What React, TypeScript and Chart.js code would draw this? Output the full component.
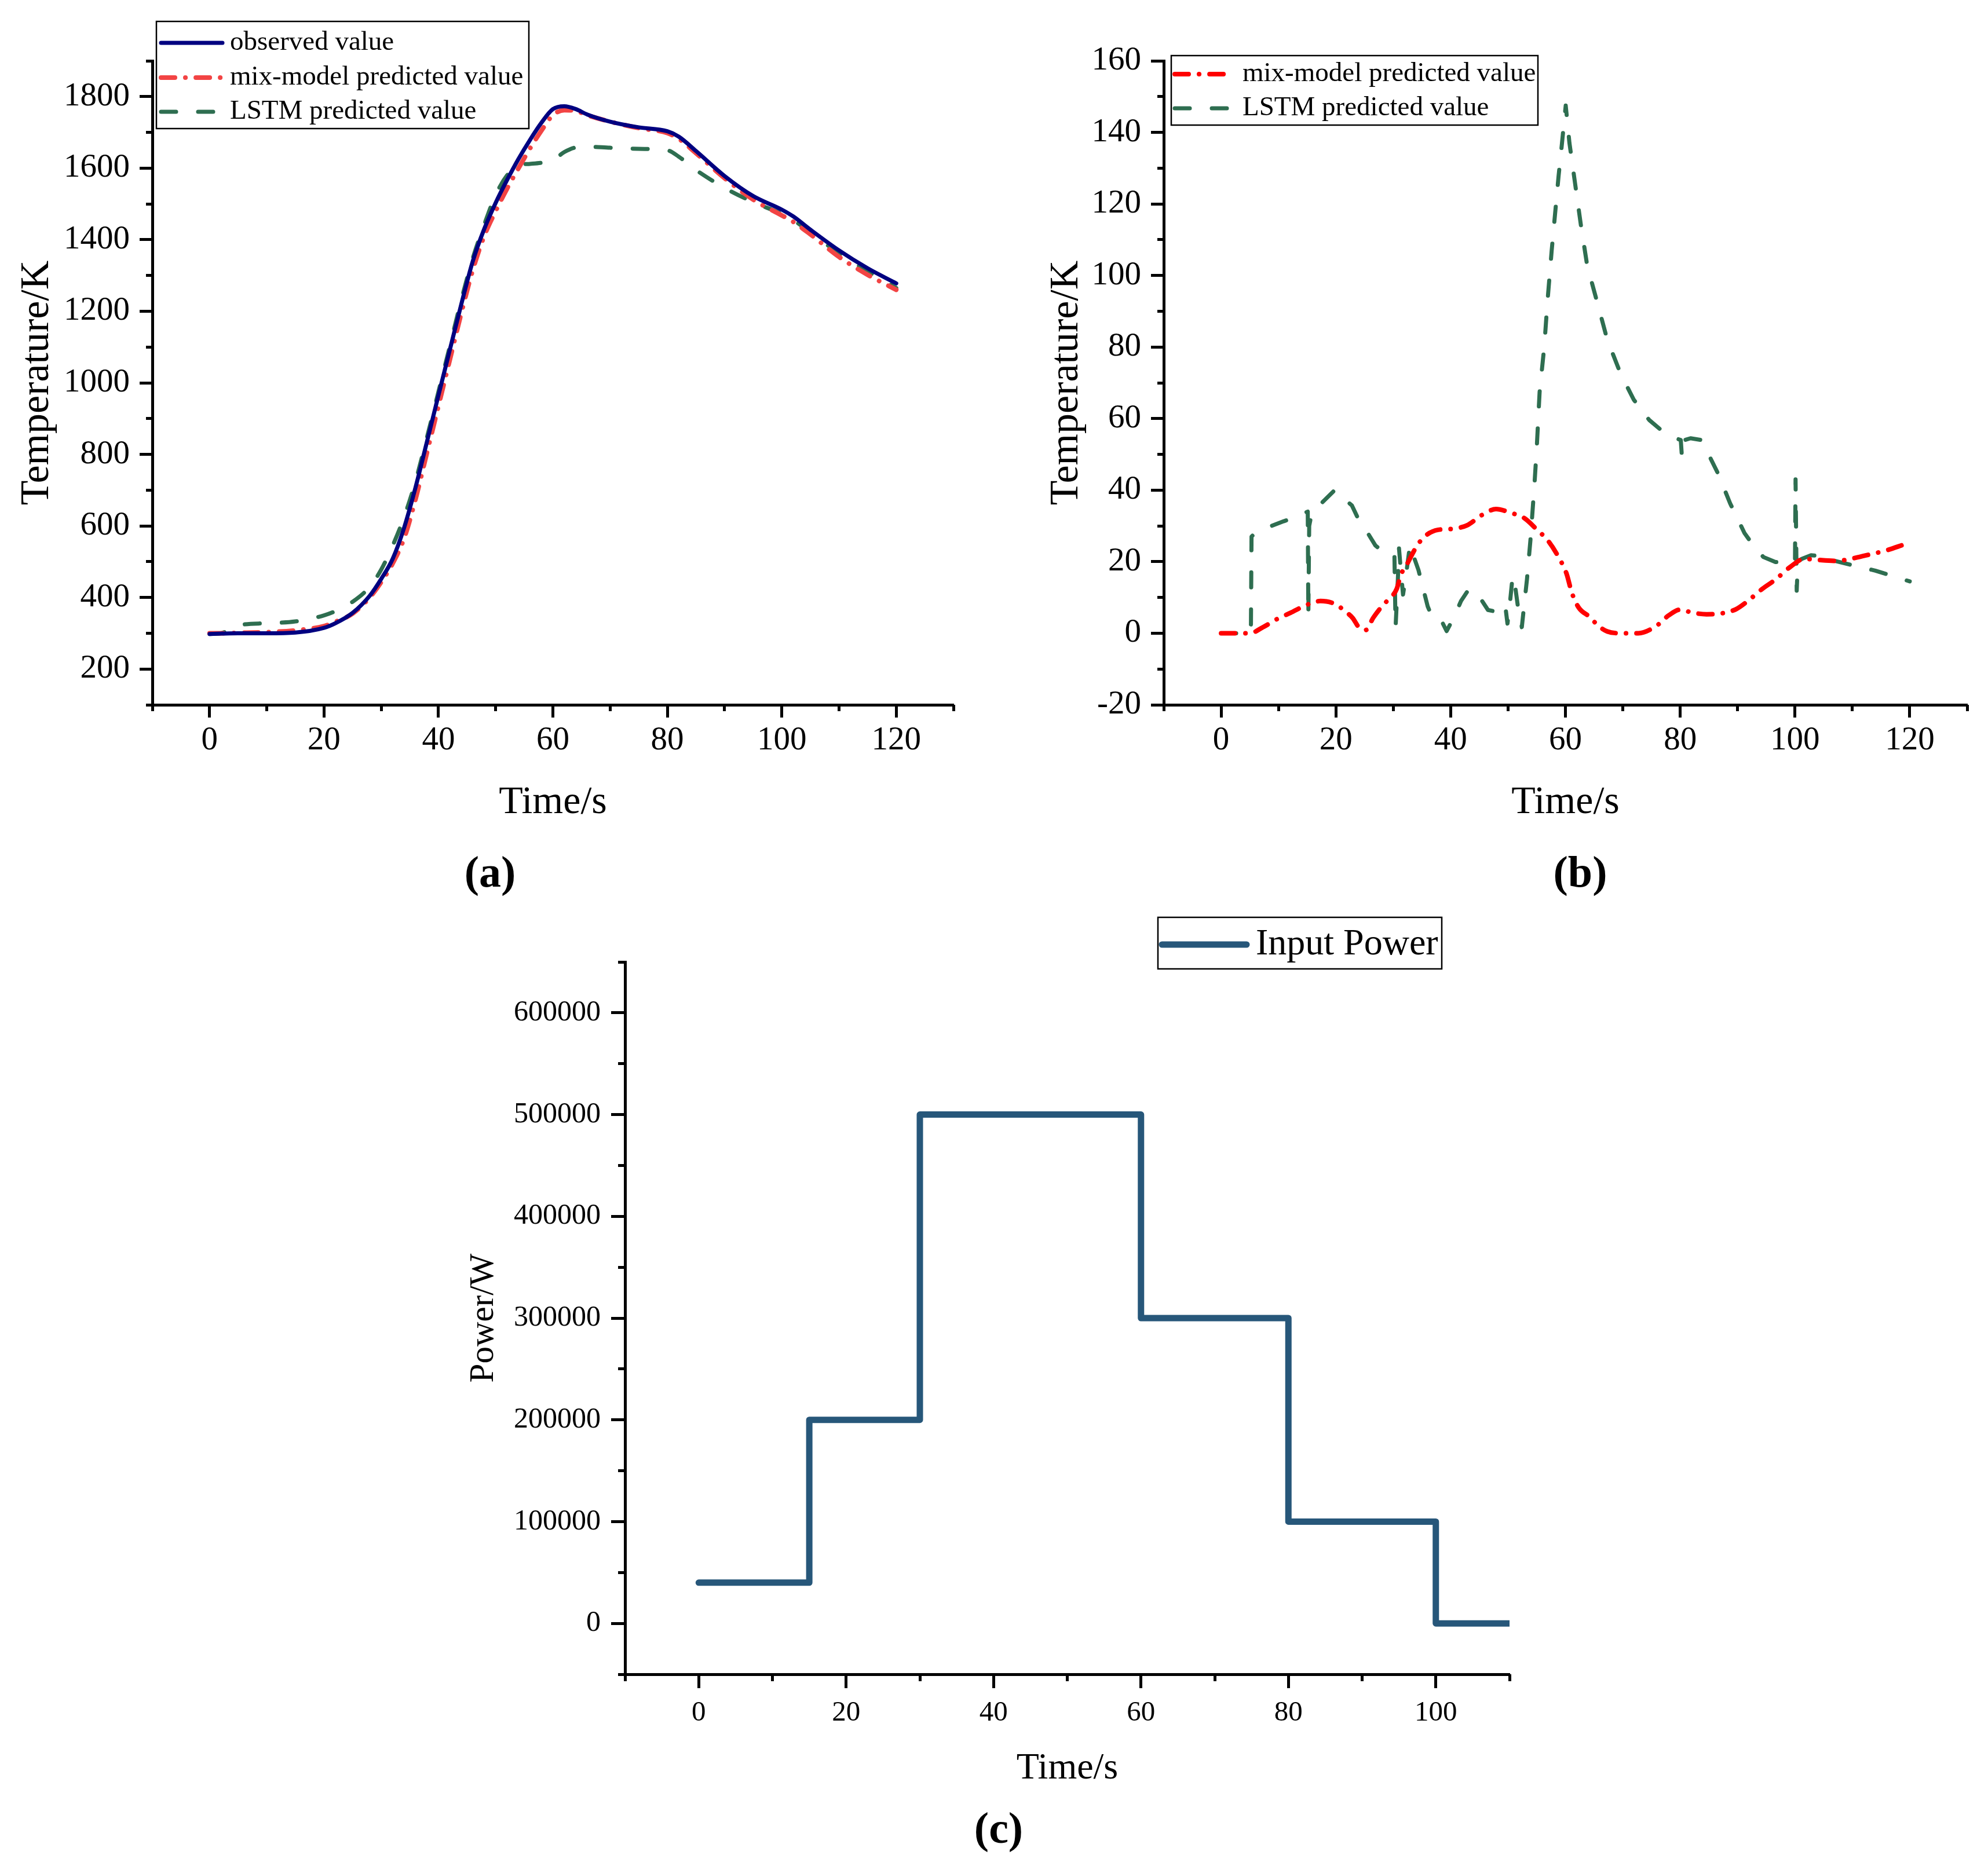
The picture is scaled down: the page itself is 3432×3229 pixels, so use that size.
import { useEffect, useRef } from "react";
import { Chart, registerables } from "chart.js";

Chart.register(...registerables);

const FONT = "'Liberation Serif', 'Times New Roman', serif";

// ---- (a) temperature: observed vs predicted ----
const timeA = [0, 2, 5, 10, 15, 20, 22, 25, 28, 30, 32, 34, 36, 38, 40, 42, 44, 46, 48, 50, 52, 54, 56, 58, 60, 62, 64, 66, 70, 75, 80, 82, 85, 90, 95, 100, 102, 105, 110, 115, 120];
const observedA = [298, 299, 300, 300, 302, 315, 328, 357, 405, 452, 508, 595, 708, 836, 965, 1093, 1220, 1340, 1430, 1503, 1567, 1626, 1679, 1727, 1765, 1773, 1765, 1750, 1730, 1714, 1703, 1688, 1648, 1578, 1522, 1484, 1465, 1428, 1370, 1320, 1278];
const mixA = [300, 300, 301, 303, 308, 320, 332, 355, 400, 443, 495, 565, 675, 805, 935, 1065, 1195, 1315, 1410, 1480, 1543, 1600, 1655, 1705, 1748, 1762, 1760, 1748, 1730, 1712, 1698, 1682, 1642, 1572, 1512, 1468, 1450, 1415, 1352, 1302, 1260];
const lstmA = [298, 300, 322, 328, 333, 350, 362, 388, 430, 478, 545, 625, 725, 848, 975, 1103, 1232, 1348, 1442, 1525, 1580, 1608, 1612, 1615, 1622, 1645, 1658, 1660, 1657, 1654, 1650, 1632, 1595, 1545, 1505, 1472, 1455, 1420, 1362, 1312, 1265];

// ---- (b) prediction error ----
const timeBMix = [0, 5, 7.3, 9.8, 12.1, 14.6, 17.3, 19.8, 21.8, 22.9, 24, 25.2, 26.5, 27.6, 29, 30.6, 31.3, 32.2, 33.5, 34.4, 35.9, 37.8, 40.4, 42.9, 45.4, 47.9, 50.4, 52.9, 55, 56.9, 58.8, 60.2, 61.1, 62.3, 64.2, 65.8, 67.3, 70, 72.7, 75.8, 78, 80, 82, 84.6, 87.4, 89.7, 92, 94.3, 96.6, 99.3, 101.6, 103.9, 107.4, 109.7, 113, 116, 119];
const mixB = [0, 0, 1.7, 4, 5.7, 7.7, 9, 8.2, 5.9, 4.3, 1.7, 0.9, 4.3, 6.7, 9.2, 12.4, 16.3, 18.7, 22.7, 25.1, 27.6, 28.9, 29.2, 30.2, 33, 34.7, 33.7, 32.1, 29, 26, 21.3, 16.6, 11.4, 7.2, 4.6, 2, 0.5, 0, 0, 2, 5, 6.6, 5.8, 5.3, 5.6, 6.7, 9.3, 12.4, 15, 18.7, 20.8, 20.5, 20.2, 20.8, 22, 23.2, 24.8];
const timeBLstm = [0, 4.9, 5.2, 5.3, 5.6, 8.3, 10.9, 13.3, 15.1, 15.2, 15.35, 15.6, 17.7, 19.8, 20.7, 22.8, 24, 25.4, 26.9, 28.8, 30.2, 30.4, 30.8, 31, 31.4, 31.7, 32.2, 32.9, 34.4, 36, 36.9, 38.4, 39.3, 40.7, 41.8, 43, 44.3, 45.4, 46.5, 47.4, 48.3, 49.5, 49.9, 50.3, 50.8, 51.3, 51.8, 52.4, 52.9, 53.3, 53.9, 54.6, 55, 55.5, 56.3, 56.9, 57.6, 58.2, 58.8, 59.4, 60.05, 60.7, 61.7, 62.7, 63.8, 65.4, 67.3, 69.6, 71.9, 74.6, 77.7, 80.1, 80.3, 80.8, 81.8, 83.7, 85, 86.6, 88.7, 91.2, 92.8, 94.5, 96.6, 98.9, 100, 100.1, 100.3, 100.5, 101.2, 102.8, 105.5, 107, 110, 114, 117, 120];
const lstmB = [0, 0, 2.5, 27, 27.5, 29.7, 31.3, 32.6, 34, 5, 30, 32, 36.7, 40, 38.6, 35.7, 31.6, 28.4, 24.5, 22.1, 22, 1.7, 15, 23.7, 16, 10.8, 16, 24.5, 17.6, 7.5, 4.1, 3.5, 0.6, 4.9, 9, 11.9, 11.9, 9.2, 6.5, 6.2, 7.9, 7.9, 2.7, 8, 16, 12.4, 6.5, 1.7, 9.2, 15.1, 26, 41.5, 51.8, 67.4, 79.9, 93.3, 106.9, 117.3, 127.7, 137, 147.5, 137, 125.5, 114, 102.7, 93.3, 82, 72.6, 65.3, 59.6, 55.4, 54, 49.3, 54, 54.5, 54, 49.8, 44.6, 36.3, 28, 24.4, 21.3, 19.9, 19.7, 20, 43, 11.9, 20, 20.8, 21.8, 21.5, 20.2, 19, 17.5, 16, 14.5];

// ---- (c) input power ----
const timeC = [0, 15, 30, 60, 80, 100, 110];
const powerC = [40000, 200000, 500000, 300000, 100000, 0, 0];

// ---- ticks ----
const majorXab = [0, 20, 40, 60, 80, 100, 120];
const minorXab = [-10, 10, 30, 50, 70, 90, 110, 130];
const majorYa = [200, 400, 600, 800, 1000, 1200, 1400, 1600, 1800];
const minorYa = [100, 300, 500, 700, 900, 1100, 1300, 1500, 1700, 1900];
const majorYb = [-20, 0, 20, 40, 60, 80, 100, 120, 140, 160];
const minorYb = [-10, 10, 30, 50, 70, 90, 110, 130, 150];
const majorXc = [0, 20, 40, 60, 80, 100];
const minorXc = [-10, 10, 30, 50, 70, 90, 110];
const majorYc = [0, 100000, 200000, 300000, 400000, 500000, 600000];
const minorYc = [-50000, 50000, 150000, 250000, 350000, 450000, 550000, 650000];

const pts = (xs: number[], ys: number[]) => xs.map((x, i) => ({ x, y: ys[i] }));

const boxLegend = {
  id: "boxLegend",
  afterDraw(chart: any, _args: any, opts: any) {
    if (!opts || !opts.box) return;
    const ctx = chart.ctx;
    const [ox, oy] = opts.origin;
    const [bx, by, bw, bh] = opts.box;
    ctx.save();
    ctx.fillStyle = "#fff";
    ctx.fillRect(bx - ox, by - oy, bw, bh);
    ctx.strokeStyle = "#000";
    ctx.lineWidth = 2.5;
    ctx.strokeRect(bx - ox, by - oy, bw, bh);
    chart.data.datasets.forEach((ds: any, i: number) => {
      const y = opts.rows[i] - oy;
      ctx.beginPath();
      ctx.strokeStyle = ds.borderColor;
      ctx.lineWidth = ds.borderWidth;
      ctx.lineCap = "round";
      ctx.setLineDash(ds.borderDash || []);
      ctx.moveTo(opts.sample[0] - ox, y);
      ctx.lineTo(opts.sample[1] - ox, y);
      ctx.stroke();
      ctx.setLineDash([]);
      ctx.fillStyle = "#000";
      ctx.font = `${opts.size}px ${FONT}`;
      ctx.textBaseline = "middle";
      ctx.textAlign = "left";
      ctx.fillText(ds.label, opts.textX - ox, y);
    });
    ctx.restore();
  },
};

function axisPair(id: string, horizontal: boolean, a: any, size: number) {
  const common = { type: "linear", min: a.min, max: a.max, position: horizontal ? "bottom" : "left" };
  return {
    [id]: {
      ...common,
      weight: 1,
      afterBuildTicks: (s: any) => {
        s.ticks = a.major.map((v: number) => ({ value: v }));
      },
      afterFit: (s: any) => {
        if (horizontal) s.height = size;
        else s.width = size;
      },
      grid: { drawOnChartArea: false, drawTicks: true, tickLength: a.majorLen, tickWidth: 5, tickColor: "#000", color: "#000" },
      border: { display: true, color: "#000", width: 5 },
      ticks: {
        color: "#000",
        font: { family: FONT, size: a.tickSize },
        padding: a.pad,
        autoSkip: false,
        maxRotation: 0,
        callback: (v: number) => String(v),
      },
      title: {
        display: true,
        text: a.title,
        color: "#000",
        font: { family: FONT, size: a.titleSize, lineHeight: 1 },
        padding: horizontal ? { top: 0, bottom: a.titleOffset } : { top: a.titleOffset, bottom: 0 },
      },
    },
    [id + "Minor"]: {
      ...common,
      weight: 0,
      afterBuildTicks: (s: any) => {
        s.ticks = a.minor.map((v: number) => ({ value: v }));
      },
      afterFit: (s: any) => {
        if (horizontal) s.height = 0;
        else s.width = 0;
      },
      grid: { drawOnChartArea: false, drawTicks: true, tickLength: a.minorLen, tickWidth: 5, tickColor: "#000", color: "#000" },
      border: { display: false },
      ticks: { display: false },
      title: { display: false },
    },
  };
}

function PanelChart({ spec }: { spec: any }) {
  const canvasRef = useRef<HTMLCanvasElement>(null);

  useEffect(() => {
    if (!canvasRef.current) return;
    const { left, top, width, height, area } = spec;
    const chart = new Chart(canvasRef.current, {
      type: "line",
      data: { datasets: spec.datasets },
      plugins: [boxLegend],
      options: {
        animation: false,
        responsive: false,
        devicePixelRatio: 1,
        events: [],
        layout: { padding: { left: 0, top: area.t - top, right: left + width - area.r, bottom: 0 } },
        plugins: {
          legend: { display: false },
          tooltip: { enabled: false },
          boxLegend: { ...spec.legend, origin: [left, top] },
        } as any,
        scales: {
          ...axisPair("x", true, spec.x, top + height - area.b),
          ...axisPair("y", false, spec.y, area.l - left),
        } as any,
      },
    } as any);
    return () => chart.destroy();
  }, [spec]);

  return (
    <canvas
      ref={canvasRef}
      width={spec.width}
      height={spec.height}
      style={{ position: "absolute", left: spec.left, top: spec.top, width: spec.width, height: spec.height }}
    />
  );
}

const line = (label: string, data: any[], color: string, width: number, dash: number[], extra: any = {}) => ({
  label,
  data,
  borderColor: color,
  borderWidth: width,
  borderDash: dash,
  borderCapStyle: "round",
  borderJoinStyle: "round",
  pointRadius: 0,
  fill: false,
  xAxisID: "x",
  yAxisID: "y",
  ...extra,
});

const DASH_DOT = [24, 18, 0.1, 18];
const DASH = [26, 38];

const panelA = {
  left: 0, top: 0, width: 1720, height: 1450,
  area: { l: 263, t: 105, r: 1646, b: 1217 },
  datasets: [
    line("observed value", pts(timeA, observedA), "#000080", 7, [], { cubicInterpolationMode: "monotone" }),
    line("mix-model predicted value", pts(timeA, mixA), "#f24444", 8, DASH_DOT, { cubicInterpolationMode: "monotone" }),
    line("LSTM predicted value", pts(timeA, lstmA), "#2e6e50", 7, DASH, { cubicInterpolationMode: "monotone" }),
  ],
  x: { min: -10, max: 130, major: majorXab, minor: minorXab, title: "Time/s", titleSize: 68, titleOffset: 30, tickSize: 57, majorLen: 22, minorLen: 11, pad: 6 },
  y: { min: 100, max: 1900, major: majorYa, minor: minorYa, title: "Temperature/K", titleSize: 70, titleOffset: 30, tickSize: 57, majorLen: 22, minorLen: 11, pad: 17 },
  legend: { box: [270, 37, 643, 185], rows: [74, 134, 193], sample: [278, 384], textX: 397, size: 47 },
};

const panelB = {
  left: 1720, top: 0, width: 1712, height: 1450,
  area: { l: 2009, t: 105, r: 3396, b: 1217 },
  datasets: [
    line("mix-model predicted value", pts(timeBMix, mixB), "#ff0000", 8, DASH_DOT, { cubicInterpolationMode: "monotone" }),
    line("LSTM predicted value", pts(timeBLstm, lstmB), "#2e6e50", 7, DASH, { tension: 0 }),
  ],
  x: { min: -10, max: 130, major: majorXab, minor: minorXab, title: "Time/s", titleSize: 68, titleOffset: 30, tickSize: 57, majorLen: 22, minorLen: 11, pad: 6 },
  y: { min: -20, max: 160, major: majorYb, minor: minorYb, title: "Temperature/K", titleSize: 70, titleOffset: 87, tickSize: 57, majorLen: 22, minorLen: 11, pad: 17 },
  legend: { box: [2022, 96, 633, 120], rows: [128, 187], sample: [2028, 2122], textX: 2145, size: 47 },
};

const panelC = {
  left: 760, top: 1560, width: 1940, height: 1550,
  area: { l: 1079, t: 1661, r: 2606, b: 2891 },
  datasets: [line("Input Power", pts(timeC, powerC), "#27577a", 11, [], { stepped: "before" })],
  x: { min: -10, max: 110, major: majorXc, minor: minorXc, title: "Time/s", titleSize: 64, titleOffset: 24, tickSize: 49, majorLen: 24, minorLen: 12, pad: 14 },
  y: { min: -50000, max: 650000, major: majorYc, minor: minorYc, title: "Power/W", titleSize: 59, titleOffset: 46, tickSize: 50, majorLen: 24, minorLen: 12, pad: 18 },
  legend: { box: [1999, 1584, 490, 89], rows: [1631], sample: [2006, 2152], textX: 2168, size: 64 },
};

const panelLabel = (text: string, x: number, y: number) => (
  <div
    key={text}
    style={{
      position: "absolute",
      left: x,
      top: y,
      transform: "translate(-50%, -50%)",
      font: `bold 76px ${FONT}`,
      lineHeight: 1,
      color: "#000",
      whiteSpace: "nowrap",
    }}
  >
    {text}
  </div>
);

export default function App() {
  return (
    <div style={{ position: "absolute", left: 0, top: 0, width: 3432, height: 3229, background: "#fff", overflow: "hidden" }}>
      <PanelChart spec={panelA} />
      <PanelChart spec={panelB} />
      <PanelChart spec={panelC} />
      {panelLabel("(a)", 846, 1505)}
      {panelLabel("(b)", 2728, 1505)}
      {panelLabel("(c)", 1724, 3156)}
    </div>
  );
}
